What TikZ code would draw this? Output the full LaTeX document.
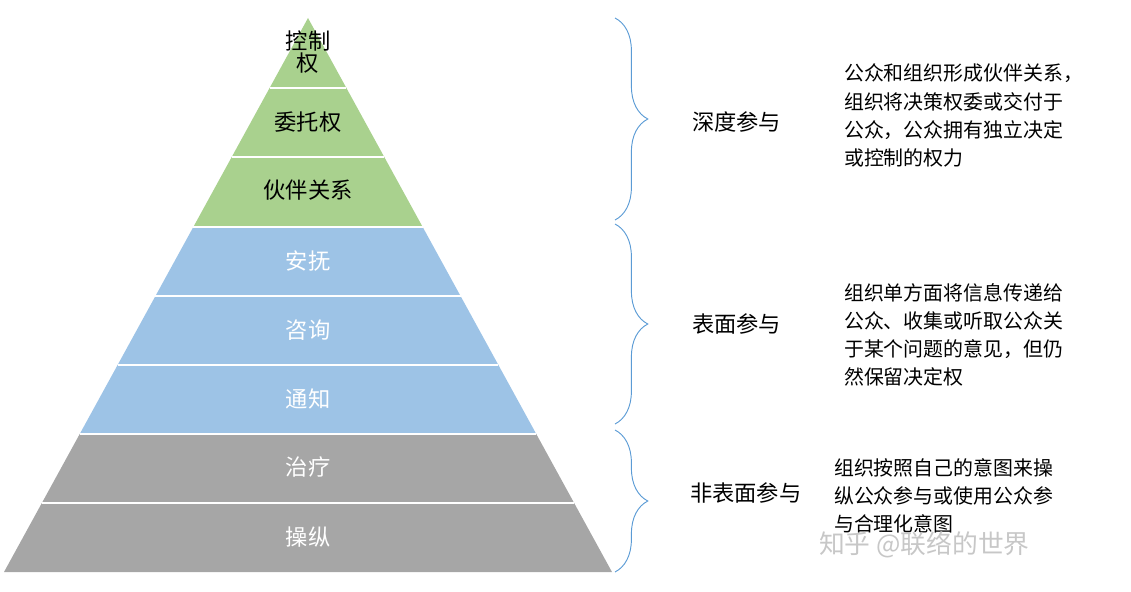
\documentclass[tikz,border=0pt]{standalone}
\usepackage{fontspec}
\setmainfont{Noto Sans CJK SC}
\usetikzlibrary{decorations.pathreplacing}
\definecolor{deep}{HTML}{A9D18E}
\definecolor{surf}{HTML}{9DC3E6}
\definecolor{non}{HTML}{A6A6A6}
\definecolor{brc}{HTML}{5B9BD5}
\tikzset{
  lab/.style={font=\fontsize{19}{22}\selectfont},
  desc/.style={font=\fontsize{17}{24}\selectfont, align=left, anchor=north west},
  brc/.style={draw=brc, thick, decorate, decoration={brace, amplitude=28pt, aspect=0.5}},
}
% half width of the pyramid at height y
\newcommand{\hw}[1]{(#1-18)/554*304}
\begin{document}
\begin{tikzpicture}[x=0.03cm, y=-0.03cm]
\useasboundingbox (0,0) rectangle (1131,591);
\coordinate (apex) at (308,18);
% layers
\foreach \t/\b/\c in {18/88/deep, 88/157/deep, 157/227/deep, 227/296/surf, 296/365/surf, 365/434/surf, 434/503/non, 503/572/non}
  \fill[\c] ({308-\hw{\t}},\t) -- ({308+\hw{\t}},\t) -- ({308+\hw{\b}},\b) -- ({308-\hw{\b}},\b) -- cycle;
\foreach \y in {88,157,227,296,365,434,503}
  \draw[white, line width=1.5pt] ({308-\hw{\y}},\y) -- ({308+\hw{\y}},\y);
\node[lab, align=center] (kz) at (308,52) {控制\\[-3pt]权};
\node[lab] (wt) at (308,122) {委托权};
\node[lab] (hb) at (308,190) {伙伴关系};
\node[lab, white] (af) at (308,261) {安抚};
\node[lab, white] (zx) at (308,330) {咨询};
\node[lab, white] (tz) at (308,399) {通知};
\node[lab, white] (zl) at (308,467) {治疗};
\node[lab, white] (cz) at (308,537) {操纵};
% braces
\coordinate (b1t) at (615,18);  \coordinate (b1b) at (615,220);
\coordinate (b2t) at (615,224); \coordinate (b2b) at (615,424);
\coordinate (b3t) at (615,430); \coordinate (b3b) at (615,572);
\draw[brc] (b1t) -- (b1b);
\draw[brc] (b2t) -- (b2b);
\draw[brc] (b3t) -- (b3b);
\node[lab, anchor=west] (sd) at (688,122) {深度参与};
\node[lab, anchor=west] (bm) at (688,324) {表面参与};
\node[lab, anchor=west] (fb) at (686,493) {非表面参与};
\node[desc] (d1) at (840,60) {公众和组织形成伙伴关系，\\组织将决策权委或交付于\\公众，公众拥有独立决定\\或控制的权力};
\node[desc] (d2) at (840,279) {组织单方面将信息传递给\\公众、收集或听取公众关\\于某个问题的意见，但仍\\然保留决定权};
\node[desc] (d3) at (830,454) {组织按照自己的意图来操\\纵公众参与或使用公众参\\与合理化意图};
% watermark
\node[font=\fontsize{22}{24}\selectfont, text=black!22, anchor=west] (wm) at (815,545) {知乎 @联络的世界};
\end{tikzpicture}
\end{document}
